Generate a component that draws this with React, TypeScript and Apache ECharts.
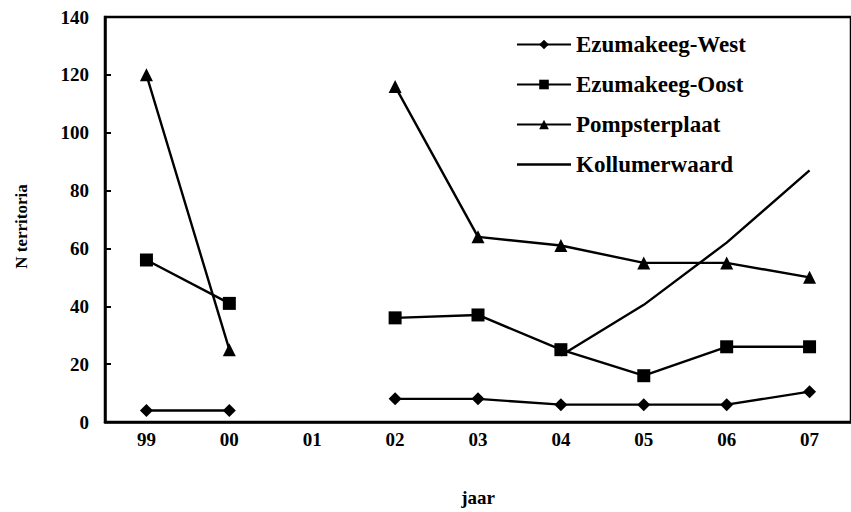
import React, { useEffect, useRef } from "react";
import * as echarts from "echarts";

const categories = ["99", "00", "01", "02", "03", "04", "05", "06", "07"];
const ezumakeegWest = [4, 4, null, 8, 8, 6, 6, 6, 10.5];
const ezumakeegOost = [56, 41, null, 36, 37, 25, 16, 26, 26];
const pompsterplaat = [120, 25, null, 116, 64, 61, 55, 55, 50];
const kollumerwaard = [null, null, null, null, null, 23, 40.5, 62, 87];
const yTicks = { min: 0, max: 140, interval: 20 };
const seriesNames = ["Ezumakeeg-West", "Ezumakeeg-Oost", "Pompsterplaat", "Kollumerwaard"];

const FONT = "Liberation Serif";

export default function App() {
  const ref = useRef<HTMLDivElement>(null);
  useEffect(() => {
    if (!ref.current) return;
    const chart = echarts.init(ref.current, undefined, { renderer: "svg" });
    const mk = (name: string, data: (number | null)[], symbol: string, size: number) => ({
      name,
      type: "line",
      data,
      symbol,
      symbolSize: size,
      showSymbol: symbol !== "none",
      connectNulls: false,
      lineStyle: { color: "#000", width: 2.4 },
      itemStyle: { color: "#000" },
    });
    chart.setOption({
      animation: false,
      backgroundColor: "#fff",
      textStyle: { fontFamily: FONT },
      grid: {
        left: 105,
        top: 17,
        width: 752,
        height: 410,
        show: true,
        borderColor: "#000",
        borderWidth: 2.5,
      },
      legend: {
        left: 511,
        top: 28,
        orient: "vertical",
        itemWidth: 54,
        itemHeight: 12,
        itemGap: 17,
        textStyle: { fontFamily: FONT, fontWeight: "bold", fontSize: 23, color: "#000" },
        data: [
          { name: seriesNames[0] },
          { name: seriesNames[1] },
          { name: seriesNames[2] },
          { name: seriesNames[3], icon: "path://M0,0H54V2.4H0Z" },
        ],
      },
      xAxis: {
        type: "category",
        data: categories,
        boundaryGap: true,
        name: "jaar",
        nameLocation: "middle",
        nameGap: 66,
        nameTextStyle: { fontFamily: FONT, fontWeight: "bold", fontSize: 19, color: "#000" },
        axisLine: { lineStyle: { color: "#000", width: 2.5 } },
        axisTick: { inside: true, length: 6, lineStyle: { color: "#000", width: 2 } },
        axisLabel: { fontFamily: FONT, fontWeight: "bold", fontSize: 19, color: "#000", margin: 8 },
        splitLine: { show: false },
      },
      yAxis: {
        type: "value",
        min: yTicks.min,
        max: yTicks.max,
        interval: yTicks.interval,
        name: "N territoria",
        nameLocation: "middle",
        nameGap: 75,
        nameRotate: 90,
        nameTextStyle: { fontFamily: FONT, fontWeight: "bold", fontSize: 17, color: "#000", padding: [0, 14, 0, 0] },
        axisLine: { show: true, lineStyle: { color: "#000", width: 2.5 } },
        axisTick: { show: true, inside: true, length: 6, lineStyle: { color: "#000", width: 2 } },
        axisLabel: { fontFamily: FONT, fontWeight: "bold", fontSize: 19, color: "#000", margin: 16 },
        splitLine: { show: false },
      },
      series: [
        mk(seriesNames[0], ezumakeegWest, "diamond", 13),
        mk(seriesNames[1], ezumakeegOost, "rect", 13),
        mk(seriesNames[2], pompsterplaat, "triangle", 13),
        mk(seriesNames[3], kollumerwaard, "none", 0),
      ],
    });
    return () => chart.dispose();
  }, []);
  return (
    <div
      ref={ref}
      style={{ position: "fixed", left: 0, top: 0, width: 851, height: 512, background: "#fff" }}
    />
  );
}
